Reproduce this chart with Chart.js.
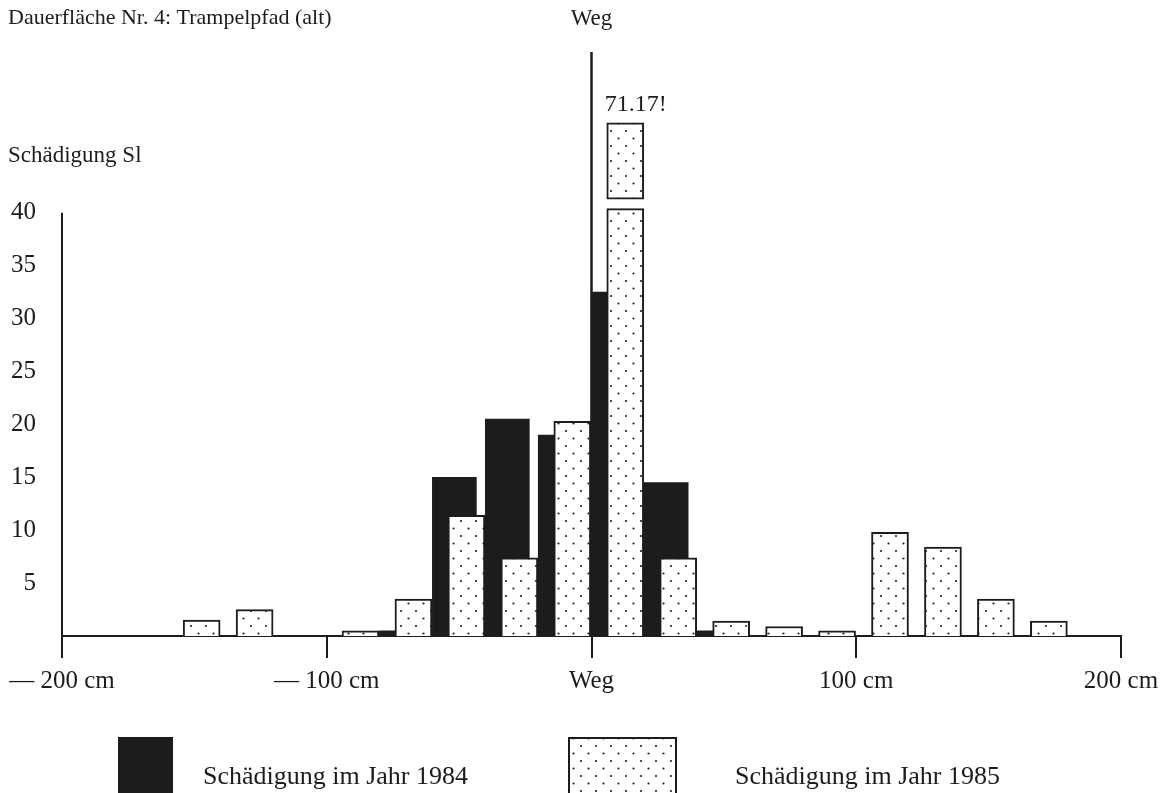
<!DOCTYPE html>
<html><head><meta charset="utf-8">
<script src="https://cdn.jsdelivr.net/npm/chart.js@4.4.0/dist/chart.umd.min.js"></script>
<style>html,body{margin:0;padding:0;background:#fff;} #wrap{width:1173px;height:793px;position:relative;}</style>
</head><body><div id="wrap"><canvas id="c" width="1173" height="793"></canvas></div>
<script>
// ---- data ----
const intervalStart = [-200,-180,-160,-140,-120,-100,-80,-60,-40,-20,0,20,40,60,80,100,120,140,160,180];
const damage1984   = [0,0,0,0,0,0,0.5,15,20.5,19,32.5,14.5,0.5,0,0,0,0,0,0,0];
const damage1985   = [0,0,1.5,2.5,0,0.5,3.5,11.4,7.4,20.3,71.17,7.4,1.4,0.9,0.5,9.8,8.4,3.5,1.4,0];
const xTickValues  = [-200,-100,0,100,200];
const xTickLabels  = ['\u2014 200 cm','\u2014 100 cm','Weg','100 cm','200 cm'];
const yTickValues  = [5,10,15,20,25,30,35,40];
const seriesNames  = ['Schädigung im Jahr 1984','Schädigung im Jahr 1985'];
const titleText    = 'Dauerfläche Nr. 4: Trampelpfad (alt)';
const yTitleText   = 'Schädigung Sl';
const pathLabel    = 'Weg';

// ---- drawing config ----
const FONT = "'Liberation Serif','DejaVu Serif',serif";
const INK = '#1c1c1c';
const BLACK_OFF = 8.2, DOT_OFF = 12.75;     // bar centre within 20 cm bin (cm)
const AXIS_TOP = 40, CAP = 40.4, STUB = [41.3, 48.5]; // broken-bar display

function dotPattern(){
  const c=document.createElement('canvas'); c.width=15; c.height=15;
  const g=c.getContext('2d'); g.fillStyle='#fff'; g.fillRect(0,0,15,15);
  g.fillStyle='#222';
  [[3.5,3.5],[11,11]].forEach(([x,y])=>{g.beginPath();g.arc(x,y,1.1,0,Math.PI*2);g.fill();});
  return g.createPattern(c,'repeat');
}
const DOTS = dotPattern();

const pts1984 = intervalStart.map((s,i)=>({x:s+BLACK_OFF,y:damage1984[i]})).filter(p=>p.y>0);
const pts1985 = intervalStart.map((s,i)=>({x:s+DOT_OFF,y:Math.min(damage1985[i],CAP),v:damage1985[i]})).filter(p=>p.v>0);
const ptsStub = intervalStart.map((s,i)=>({x:s+DOT_OFF,y:[STUB[0],STUB[1]],v:damage1985[i]})).filter(p=>p.v>CAP);

const extras = {
  id:'extras',
  afterDraw(chart){
    const {ctx, chartArea, scales:{x,y}} = chart;
    ctx.save();
    ctx.strokeStyle = INK; ctx.lineCap='butt';
    // y axis line (0..40)
    ctx.lineWidth = 2;
    ctx.beginPath(); ctx.moveTo(chartArea.left, y.getPixelForValue(0)); ctx.lineTo(chartArea.left, y.getPixelForValue(AXIS_TOP)); ctx.stroke();
    // path (Weg) line
    const wx = x.getPixelForValue(0);
    ctx.lineWidth = 2.5;
    ctx.beginPath(); ctx.moveTo(wx, 52); ctx.lineTo(wx, y.getPixelForValue(0)); ctx.stroke();
    // texts
    ctx.fillStyle = INK; ctx.textBaseline='middle';
    ctx.font = `22px ${FONT}`; ctx.textAlign='left';
    ctx.fillText(titleText, 8, 18);
    ctx.font = `23px ${FONT}`;
    ctx.fillText(yTitleText, 8, 156);
    ctx.textAlign='center';
    ctx.fillText(pathLabel, wx, 19);
    // broken-bar value label
    const meta = chart.getDatasetMeta(2);
    meta.data.forEach((el,i)=>{
      ctx.textAlign='left'; ctx.textBaseline='alphabetic';
      ctx.font = `24px ${FONT}`;
      ctx.fillText(ptsStub[i].v.toFixed(2)+'!', el.x - el.width/2 - 2, el.y - 12);
    });
    // legend
    ctx.textBaseline='middle'; ctx.textAlign='left'; ctx.font = `26px ${FONT}`;
    ctx.fillStyle = INK; ctx.fillRect(118, 737, 55, 56);
    ctx.fillText(seriesNames[0], 203, 777);
    ctx.fillStyle = DOTS; ctx.fillRect(568, 737, 109, 56);
    ctx.lineWidth = 2; ctx.strokeRect(569, 738, 107, 60);
    ctx.fillStyle = INK; ctx.fillText(seriesNames[1], 735, 777);
    ctx.restore();
  }
};

new Chart(document.getElementById('c'), {
  type:'bar',
  data:{datasets:[
    {label:seriesNames[1], data:pts1985, backgroundColor:DOTS, borderColor:INK, borderWidth:2, borderSkipped:'start', barThickness:37, grouped:false, order:1},
    {label:seriesNames[0], data:pts1984, backgroundColor:INK, borderWidth:0, barThickness:44, grouped:false, order:2},
    {label:seriesNames[1]+' (Fortsetzung)', data:ptsStub, backgroundColor:DOTS, borderColor:INK, borderWidth:2, borderSkipped:false, barThickness:37, grouped:false, order:0}
  ]},
  options:{
    responsive:false, animation:false,
    layout:{padding:{top:107, right:52, left:0, bottom:0}},
    plugins:{legend:{display:false}, tooltip:{enabled:false}},
    scales:{
      x:{type:'linear', min:-200, max:200, offset:false,
        afterBuildTicks:s=>{s.ticks = xTickValues.map(v=>({value:v}));},
        afterFit:s=>{s.height = 157;},
        ticks:{callback:v=>xTickLabels[xTickValues.indexOf(v)], font:{family:FONT, size:25}, color:INK, padding:8, maxRotation:0, autoSkip:false},
        grid:{display:true, offset:false, drawOnChartArea:false, drawTicks:true, tickLength:22, lineWidth:2, color:INK},
        border:{display:true, width:2, color:INK}},
      y:{min:0, max:50,
        afterBuildTicks:s=>{s.ticks = yTickValues.map(v=>({value:v}));},
        afterFit:s=>{s.width = 62;},
        ticks:{font:{family:FONT, size:25}, color:INK, padding:26},
        grid:{display:false, drawTicks:false}, border:{display:false}}
    }
  },
  plugins:[extras]
});
</script></body></html>
